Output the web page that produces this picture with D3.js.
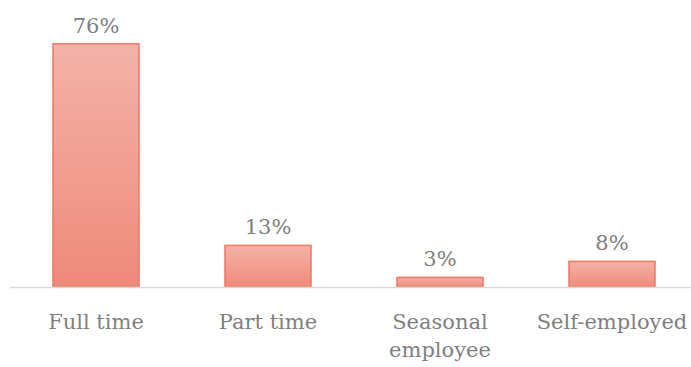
<!DOCTYPE html>
<html>
<head>
<meta charset="utf-8">
<script src="https://cdn.jsdelivr.net/npm/d3@7/dist/d3.min.js"></script>
<style>
  html, body { margin: 0; padding: 0; background: #fff; }
  svg { display: block; }
  text { font-family: "DejaVu Serif", serif; fill: #7f7f7f; }
</style>
</head>
<body>
<svg id="chart" width="691" height="367"></svg>
<script>
// Employment type shares
const categories = ["Full time", "Part time", "Seasonal employee", "Self-employed"];
const categoryLines = [["Full time"], ["Part time"], ["Seasonal", "employee"], ["Self-employed"]];
const values = [76, 13, 3, 8];

const width = 691, height = 367;
const svg = d3.select("#chart");

const x = d3.scaleBand().domain(categories).range([10, 698]).paddingInner(0.5).paddingOuter(0.25);
const y = d3.scaleLinear().domain([0, 80]).range([287, 31]);

const defs = svg.append("defs");
const grad = defs.append("linearGradient")
  .attr("id", "barFill").attr("x1", 0).attr("y1", 0).attr("x2", 0).attr("y2", 1);
grad.append("stop").attr("offset", "0%").attr("stop-color", "#f4b2a8");
grad.append("stop").attr("offset", "100%").attr("stop-color", "#ef8a7a");

// Bars
svg.selectAll("rect.bar")
  .data(values)
  .join("rect")
  .attr("class", "bar")
  .attr("x", (d, i) => x(categories[i]))
  .attr("y", d => y(d))
  .attr("width", x.bandwidth())
  .attr("height", d => y(0) - y(d))
  .attr("fill", "url(#barFill)")
  .attr("stroke", "#ec7764")
  .attr("stroke-width", 1.5);

// Baseline
svg.append("line")
  .attr("x1", 10).attr("x2", 691)
  .attr("y1", y(0) + 0.5).attr("y2", y(0) + 0.5)
  .attr("stroke", "#d9d9d9").attr("stroke-width", 1.5);

// Value labels
svg.selectAll("text.value")
  .data(values)
  .join("text")
  .attr("class", "value")
  .attr("x", (d, i) => x(categories[i]) + x.bandwidth() / 2)
  .attr("y", d => y(d) - 11)
  .attr("text-anchor", "middle")
  .attr("font-size", 21)
  .text(d => d + "%");

// Category labels
const cat = svg.selectAll("text.cat")
  .data(categories)
  .join("text")
  .attr("class", "cat")
  .attr("x", d => x(d) + x.bandwidth() / 2)
  .attr("y", 329)
  .attr("text-anchor", "middle")
  .attr("font-size", 21);
cat.selectAll("tspan")
  .data((d, i) => categoryLines[i])
  .join("tspan")
  .attr("x", function () { return d3.select(this.parentNode).attr("x"); })
  .attr("dy", (d, j) => j === 0 ? 0 : 28)
  .text(d => d);
</script>
</body>
</html>
